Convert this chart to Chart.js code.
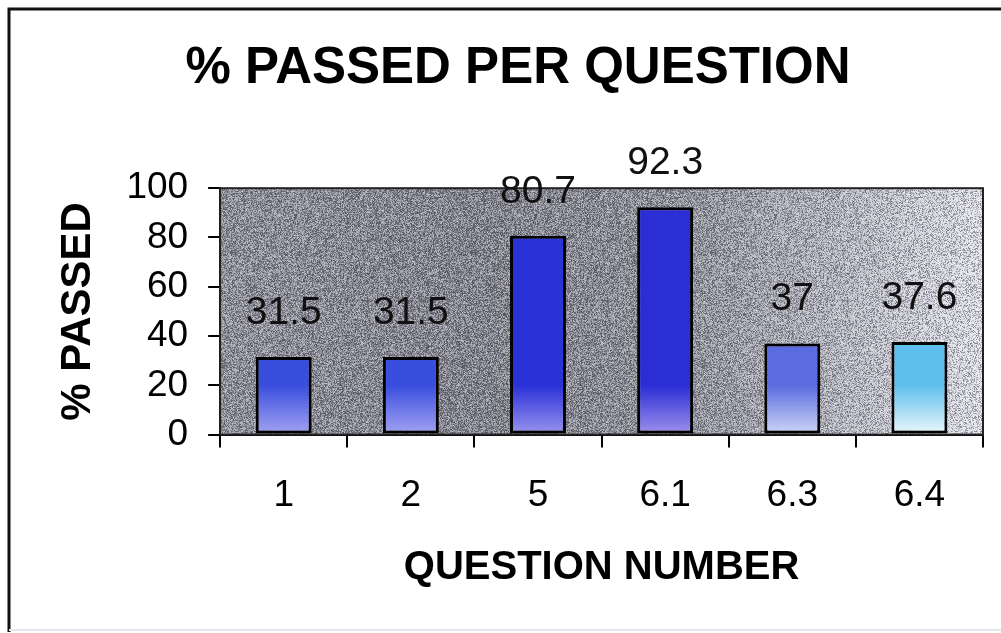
<!DOCTYPE html>
<html>
<head>
<meta charset="utf-8">
<script src="https://cdn.jsdelivr.net/npm/chart.js@4"></script>
<style>
  html,body{margin:0;padding:0;background:#fff;}
  #wrap{width:1001px;height:633px;position:relative;}
</style>
</head>
<body>
<div id="wrap"><canvas id="c" width="1001" height="633"></canvas></div>
<script>
const categories = ["1", "2", "5", "6.1", "6.3", "6.4"];
const passedPct = [31.5, 31.5, 80.7, 92.3, 37, 37.6];
const yTicks = [0, 20, 40, 60, 80, 100];
const chartTitle = "% PASSED PER QUESTION";
const xTitle = "QUESTION NUMBER";
const yTitle = "% PASSED";

const FONT = "'Liberation Sans', Arial, Helvetica, sans-serif";

// deterministic grain texture (decoration only)
function makeGrain() {
  const N = 240;
  const c = document.createElement('canvas');
  c.width = N; c.height = N;
  const g = c.getContext('2d');
  const img = g.createImageData(N, N);
  for (let y = 0; y < N; y++) {
    for (let x = 0; x < N; x++) {
      const cx = Math.floor(x / 2) + (x % 2) * 0.37, cy = Math.floor(y / 2) + (y % 2) * 0.41;
      const s = Math.sin(cx * 12.9898 + cy * 78.233) * 43758.5453;
      const h = s - Math.floor(s);
      const i = (y * N + x) * 4;
      const v = h > 0.5 ? 250 : 25;
      img.data[i] = v; img.data[i+1] = v; img.data[i+2] = Math.min(255, v + 14);
      img.data[i+3] = Math.round(Math.abs(h - 0.5) * 250);
    }
  }
  g.putImageData(img, 0, 0);
  return c;
}
const grain = makeGrain();

const barTop = ['#3a4ede', '#3a4ede', '#2a32d8', '#2a2ed4', '#5a6ce0', '#5fbfec'];
const barBottom = ['#a4a4f2', '#a4a4f2', '#9a94ee', '#a092ec', '#d0d6f6', '#eef8fc'];

const framePlugin = {
  id: 'frame',
  beforeDraw(chart) {
    const ctx = chart.ctx;
    ctx.save();
    ctx.fillStyle = '#fff';
    ctx.fillRect(0, 0, chart.width, chart.height);
    ctx.strokeStyle = '#111';
    ctx.lineWidth = 3;
    ctx.beginPath();
    ctx.moveTo(9, 632); ctx.lineTo(9, 9); ctx.lineTo(1001, 9);
    ctx.stroke();
    ctx.strokeStyle = '#e4e8ee';
    ctx.lineWidth = 2;
    ctx.beginPath(); ctx.moveTo(9, 630); ctx.lineTo(1001, 630); ctx.stroke();
    ctx.restore();
  },
  beforeDatasetsDraw(chart) {
    const {ctx, chartArea: a} = chart;
    ctx.save();
    const gr = ctx.createLinearGradient(a.left, 0, a.right, 0);
    gr.addColorStop(0, '#8e8e98');
    gr.addColorStop(0.35, '#80808a');
    gr.addColorStop(0.6, '#8e8e98');
    gr.addColorStop(0.78, '#b0b0ba');
    gr.addColorStop(1, '#e4e4ec');
    ctx.fillStyle = gr;
    ctx.fillRect(a.left, a.top, a.right - a.left, a.bottom - a.top);
    ctx.fillStyle = ctx.createPattern(grain, 'repeat');
    ctx.fillRect(a.left, a.top, a.right - a.left, a.bottom - a.top);
    ctx.strokeStyle = '#222';
    ctx.lineWidth = 2;
    ctx.strokeRect(a.left, a.top, a.right - a.left, a.bottom - a.top);
    ctx.restore();
  },
  afterDatasetsDraw(chart) {
    const ctx = chart.ctx;
    const meta = chart.getDatasetMeta(0);
    ctx.save();
    ctx.font = "39px " + FONT;
    ctx.fillStyle = '#111';
    ctx.textAlign = 'center';
    ctx.textBaseline = 'middle';
    meta.data.forEach((bar, i) => {
      ctx.fillText(String(passedPct[i]), bar.x, bar.y - 44);
    });
    ctx.restore();
  }
};

new Chart(document.getElementById('c'), {
  type: 'bar',
  data: {
    labels: categories,
    datasets: [{
      data: passedPct,
      backgroundColor(ctx) {
        const ch = ctx.chart, a = ch.chartArea;
        if (!a) return barTop[ctx.dataIndex];
        const el = ctx.element;
        const top = el && isFinite(el.y) ? el.y : a.top;
        const g = ch.ctx.createLinearGradient(0, top, 0, a.bottom);
        g.addColorStop(0, barTop[ctx.dataIndex]);
        g.addColorStop(0.8, barTop[ctx.dataIndex]);
        g.addColorStop(1, barBottom[ctx.dataIndex]);
        return g;
      },
      borderColor: '#000',
      borderWidth: 3,
      borderSkipped: false,
      barPercentage: 0.44,
      categoryPercentage: 1.0
    }]
  },
  options: {
    responsive: false,
    animation: false,
    devicePixelRatio: 1,
    layout: { padding: { left: 53, right: 18, top: 0, bottom: 41 } },
    plugins: {
      legend: { display: false },
      tooltip: { enabled: false },
      title: {
        display: true,
        text: chartTitle,
        color: '#000',
        font: { family: FONT, size: 51, weight: 'bold' },
        padding: { top: 38, bottom: 89 }
      }
    },
    scales: {
      x: {
        offset: true,
        grid: { display: true, offset: true, drawOnChartArea: false, drawTicks: true, tickLength: 13, color: '#000', lineWidth: 2 },
        border: { display: true, color: '#000', width: 2 },
        ticks: { color: '#000', padding: 26, font: { family: FONT, size: 37 } },
        title: { display: true, text: xTitle, color: '#000', padding: { top: 0, bottom: 0 }, font: { family: FONT, size: 40, weight: 'bold' } }
      },
      y: {
        min: 0, max: 100,
        afterBuildTicks(scale) { scale.ticks = yTicks.map(v => ({ value: v })); },
        grid: { display: true, drawOnChartArea: false, drawTicks: true, tickLength: 12, color: '#000', lineWidth: 2 },
        border: { display: true, color: '#000', width: 2 },
        ticks: { color: '#000', padding: 20, font: { family: FONT, size: 37 } },
        title: { display: true, text: yTitle, color: '#000', padding: { top: 0, bottom: 3 }, font: { family: FONT, size: 42, weight: 'bold' } }
      }
    }
  },
  plugins: [framePlugin]
});
</script>
</body>
</html>
